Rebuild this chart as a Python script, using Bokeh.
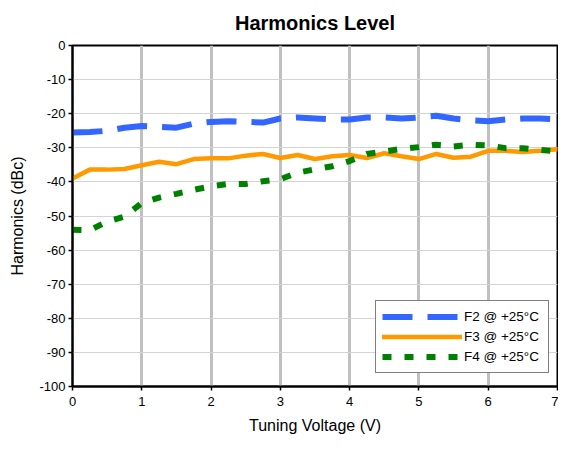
from bokeh.plotting import figure
from bokeh.models import Legend, LegendItem, FixedTicker, Range1d
from bokeh.embed import file_html
from bokeh.resources import INLINE

voltage = [0.0, 0.25, 0.5, 0.75, 1.0, 1.25, 1.5, 1.75, 2.0, 2.25, 2.5, 2.75, 3.0, 3.25, 3.5,
           3.75, 4.0, 4.25, 4.5, 4.75, 5.0, 5.25, 5.5, 5.75, 6.0, 6.25, 6.5, 6.75, 7.0]
f2 = [-25.5, -25.4, -25.0, -24.1, -23.6, -23.9, -24.1, -22.9, -22.4, -22.2, -22.4, -22.6, -21.4,
      -21.1, -21.4, -21.7, -21.7, -21.1, -21.1, -21.4, -21.1, -20.6, -21.4, -21.9, -22.2, -21.7,
      -21.4, -21.4, -21.7]
f3 = [-39.0, -36.4, -36.4, -36.2, -35.1, -34.1, -34.8, -33.3, -33.1, -33.1, -32.3, -31.8, -33.0,
      -32.1, -33.3, -32.5, -32.1, -33.0, -31.6, -32.5, -33.3, -31.8, -32.9, -32.6, -30.9, -30.9,
      -31.2, -30.9, -30.4]
f4 = [-54.0, -54.2, -51.6, -50.2, -46.2, -44.6, -43.5, -42.3, -41.3, -40.6, -40.6, -39.8, -39.2,
      -37.3, -36.3, -35.4, -33.9, -31.8, -31.1, -30.3, -29.8, -29.1, -29.6, -29.1, -29.3, -30.1,
      -30.1, -30.6, -31.1]
series_labels = ["F2 @ +25°C", "F3 @ +25°C", "F4 @ +25°C"]
x_ticks = [0, 1, 2, 3, 4, 5, 6, 7]
y_ticks = [0, -10, -20, -30, -40, -50, -60, -70, -80, -90, -100]

FONT = "Liberation Sans"

p = figure(width=558, height=436, output_backend="svg", toolbar_location=None,
           x_range=Range1d(0, 7), y_range=Range1d(-100, 0),
           min_border_left=72, min_border_right=1, min_border_top=45, min_border_bottom=47,
           title="Harmonics Level")

p.title.text_font = FONT
p.title.text_font_size = "20px"
p.title.text_font_style = "bold"
p.title.text_color = "black"
p.title.align = "center"
p.title.vertical_align = "top"
p.title.offset = 0
p.title.standoff = 19

p.outline_line_color = "black"
p.outline_line_width = 2
p.outline_line_alpha = 1

p.xaxis.ticker = FixedTicker(ticks=x_ticks)
p.yaxis.ticker = FixedTicker(ticks=y_ticks)
p.xaxis.major_label_overrides = {t: str(t) for t in x_ticks}
p.yaxis.major_label_overrides = {t: str(t) for t in y_ticks}
p.xaxis.axis_label = "Tuning Voltage (V)"
p.yaxis.axis_label = "Harmonics (dBc)"
for ax in (p.xaxis, p.yaxis):
    ax.axis_label_text_font = FONT
    ax.axis_label_text_font_size = "16px"
    ax.axis_label_text_font_style = "normal"
    ax.axis_label_text_color = "black"
    ax.major_label_text_font = FONT
    ax.major_label_text_font_size = "13px"
    ax.major_label_text_color = "black"
    ax.axis_line_color = "black"
    ax.axis_line_width = 2
    ax.major_tick_line_color = "black"
    ax.major_tick_line_width = 1.5
    ax.major_tick_out = 4
    ax.major_tick_in = 0
    ax.minor_tick_line_color = None
p.xaxis.axis_label_standoff = 8
p.yaxis.axis_label_standoff = 10
p.xaxis.major_label_standoff = 6
p.yaxis.major_label_standoff = 3

p.xgrid.grid_line_color = "#c0c0c0"
p.xgrid.grid_line_width = 3
p.ygrid.grid_line_color = "#d4d4d4"
p.ygrid.grid_line_width = 1

r2 = p.line(voltage, f2, line_color="#3366ff", line_width=6, line_dash="30 15")
r3 = p.line(voltage, f3, line_color="#ff9900", line_width=4.5, line_cap="round")
r4 = p.line(voltage, f4, line_color="#008000", line_width=6, line_dash="9 13")

legend = Legend(items=[LegendItem(label=series_labels[0], renderers=[r2]),
                       LegendItem(label=series_labels[1], renderers=[r3]),
                       LegendItem(label=series_labels[2], renderers=[r4])],
                location=(303, 13))
legend.glyph_width = 80
legend.glyph_height = 19
legend.label_height = 19
legend.label_width = 78
legend.label_standoff = 2
legend.spacing = 1
legend.padding = 6
legend.margin = 0
legend.label_text_font = FONT
legend.label_text_font_size = "13.5px"
legend.label_text_color = "black"
legend.border_line_color = "black"
legend.border_line_width = 1
legend.background_fill_color = "white"
legend.background_fill_alpha = 1
p.add_layout(legend, "center")

open("out.html", "w").write(file_html(p, INLINE))
